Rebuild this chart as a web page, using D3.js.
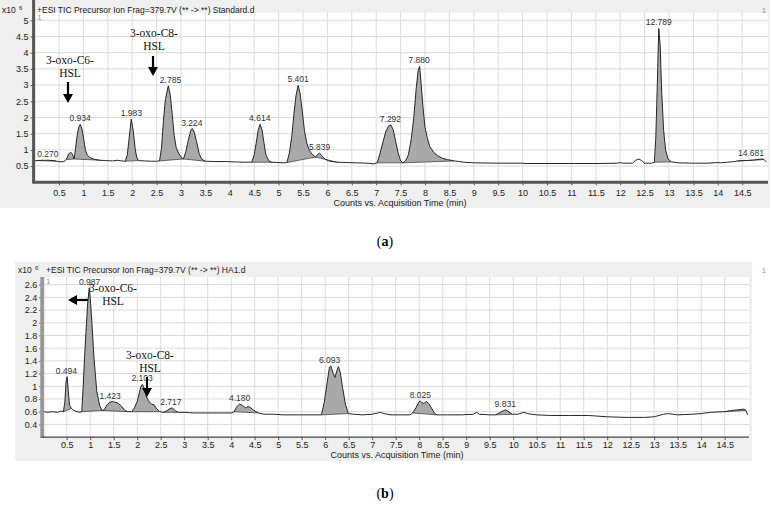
<!DOCTYPE html>
<html>
<head>
<meta charset="utf-8">
<script src="https://cdn.jsdelivr.net/npm/d3@7"></script>
<style>
  body { margin: 0; background: #fff; }
  svg text { font-family: "Liberation Sans", Arial, sans-serif; }
  .serif { font-family: "Liberation Serif", "Times New Roman", serif !important; }
</style>
</head>
<body>
<svg id="chart" width="770" height="507"></svg>
<script>
// ---- panel (a): Standard.d ----
var timeA = [0.00,0.05,0.15,0.27,0.40,0.45,0.52,0.60,0.65,0.70,0.74,0.78,0.81,0.84,0.87,0.90,0.935,0.97,1.00,1.04,1.08,1.14,1.22,1.34,1.45,1.60,1.70,1.78,1.86,1.90,1.94,1.98,2.02,2.06,2.09,2.13,2.25,2.40,2.50,2.56,2.60,2.64,2.68,2.74,2.78,2.82,2.86,2.90,2.95,3.00,3.05,3.10,3.15,3.20,3.23,3.27,3.32,3.37,3.42,3.50,3.70,3.90,4.10,4.30,4.45,4.50,4.54,4.58,4.62,4.66,4.70,4.74,4.80,4.86,5.00,5.10,5.17,5.22,5.27,5.32,5.36,5.40,5.44,5.48,5.53,5.58,5.63,5.69,5.76,5.80,5.84,5.88,5.94,6.05,6.20,6.40,6.60,6.80,6.95,7.02,7.08,7.14,7.20,7.26,7.30,7.35,7.40,7.45,7.50,7.55,7.60,7.66,7.72,7.77,7.82,7.86,7.89,7.92,7.96,8.00,8.05,8.10,8.18,8.26,8.36,8.46,8.60,8.80,9.00,9.50,10.00,10.05,10.50,11.00,11.50,11.95,12.00,12.05,12.25,12.32,12.38,12.44,12.50,12.65,12.70,12.73,12.76,12.79,12.82,12.85,12.89,12.93,12.98,13.05,13.20,13.50,13.80,14.00,14.05,14.20,14.35,14.40,14.60,14.75,14.90,14.95,15.00];
var signalA = [0.66,0.67,0.68,0.68,0.67,0.65,0.63,0.64,0.70,0.88,0.93,0.85,0.72,1.05,1.42,1.68,1.79,1.65,1.40,1.00,0.84,0.76,0.71,0.68,0.67,0.66,0.68,0.66,0.65,0.85,1.40,1.95,1.60,1.05,0.78,0.67,0.66,0.65,0.65,0.66,1.05,1.90,2.55,2.98,2.70,2.10,1.45,1.08,0.90,0.78,0.72,0.95,1.30,1.60,1.66,1.55,1.25,0.90,0.72,0.65,0.64,0.64,0.63,0.62,0.62,0.85,1.20,1.60,1.79,1.62,1.22,0.85,0.66,0.62,0.61,0.60,0.61,0.90,1.40,2.20,2.70,2.99,2.75,2.25,1.60,1.20,0.98,0.86,0.78,0.86,0.90,0.83,0.72,0.65,0.62,0.61,0.60,0.59,0.57,0.60,0.90,1.25,1.58,1.75,1.77,1.62,1.25,0.90,0.66,0.60,0.66,0.85,1.35,2.00,2.90,3.45,3.58,3.05,2.30,1.70,1.35,1.10,0.92,0.82,0.74,0.70,0.66,0.62,0.60,0.59,0.59,0.58,0.58,0.58,0.58,0.59,0.61,0.59,0.59,0.68,0.72,0.67,0.59,0.59,0.62,1.40,3.00,4.75,4.20,2.80,1.60,1.00,0.72,0.63,0.60,0.59,0.59,0.61,0.60,0.62,0.64,0.66,0.67,0.69,0.72,0.70,0.62];
var peakStartA = [0.05,0.65,0.81,1.86,2.56,3.05,4.45,5.17,5.76,7.02,7.55,12.70,14.40];
var peakEndA   = [0.45,0.81,1.34,2.13,3.05,3.50,4.86,5.76,6.20,7.55,8.60,13.05,14.95];
var peakLabelA = ["0.270","","0.934","1.983","2.785","3.224","4.614","5.401","5.839","7.292","7.880","12.789","14.681"];

// ---- panel (b): HA1.d ----
var timeB = [0.00,0.10,0.20,0.30,0.38,0.43,0.46,0.49,0.51,0.53,0.56,0.60,0.65,0.72,0.78,0.82,0.85,0.88,0.91,0.94,0.98,1.01,1.04,1.08,1.14,1.20,1.25,1.30,1.36,1.42,1.47,1.52,1.58,1.66,1.74,1.80,1.88,1.94,2.00,2.04,2.08,2.11,2.15,2.19,2.24,2.30,2.36,2.42,2.48,2.56,2.62,2.70,2.75,2.80,2.87,3.00,3.20,3.50,3.80,4.00,4.06,4.12,4.18,4.24,4.30,4.36,4.40,4.48,4.58,4.70,4.90,5.10,5.40,5.70,5.92,5.98,6.04,6.09,6.12,6.17,6.21,6.25,6.28,6.32,6.37,6.43,6.49,6.60,6.80,7.00,7.12,7.18,7.25,7.40,7.60,7.80,7.86,7.93,7.99,8.02,8.06,8.10,8.15,8.20,8.26,8.32,8.38,8.60,8.90,9.15,9.22,9.28,9.50,9.62,9.70,9.78,9.84,9.90,9.98,10.10,10.22,10.30,10.50,10.80,11.20,11.60,12.00,12.40,12.80,13.00,13.20,13.30,13.50,13.80,14.00,14.20,14.50,14.65,14.80,14.90,14.95,14.99];
var signalB = [0.60,0.59,0.60,0.59,0.61,0.60,0.75,1.10,1.15,0.95,0.70,0.65,0.62,0.60,0.59,0.60,0.99,1.45,1.85,2.25,2.55,2.30,1.95,1.45,0.92,0.70,0.62,0.63,0.71,0.75,0.76,0.75,0.74,0.69,0.62,0.60,0.60,0.66,0.76,0.88,1.00,1.03,0.97,0.85,0.77,0.72,0.71,0.64,0.60,0.59,0.61,0.65,0.66,0.62,0.59,0.59,0.58,0.58,0.58,0.58,0.60,0.68,0.72,0.70,0.66,0.68,0.67,0.62,0.58,0.56,0.56,0.55,0.55,0.55,0.55,0.75,1.05,1.30,1.32,1.20,1.14,1.25,1.31,1.22,0.98,0.72,0.57,0.56,0.55,0.56,0.58,0.59,0.57,0.55,0.55,0.55,0.58,0.66,0.75,0.77,0.74,0.73,0.76,0.73,0.66,0.58,0.55,0.55,0.55,0.56,0.59,0.56,0.55,0.55,0.58,0.61,0.63,0.60,0.56,0.56,0.59,0.57,0.55,0.54,0.54,0.54,0.52,0.51,0.51,0.52,0.56,0.57,0.55,0.56,0.57,0.59,0.60,0.62,0.63,0.64,0.62,0.55];
var peakStartB = [0.43,0.82,1.25,1.88,2.56,4.06,5.92,7.86,9.62,14.50];
var peakEndB   = [0.60,1.25,1.80,2.48,2.87,4.58,6.49,8.38,9.98,14.95];
var peakLabelB = ["0.494","0.987","1.423","2.103","2.717","4.180","6.093","8.025","9.831",""];

var ticksX = [0.5,1,1.5,2,2.5,3,3.5,4,4.5,5,5.5,6,6.5,7,7.5,8,8.5,9,9.5,10,10.5,11,11.5,12,12.5,13,13.5,14,14.5];
var ticksYA = [0.5,1,1.5,2,2.5,3,3.5,4,4.5,5];
var ticksYB = [0.4,0.6,0.8,1,1.2,1.4,1.6,1.8,2,2.2,2.4,2.6];

var svg = d3.select("#chart");

function draw_panel(p)
{
  var g = svg.append("g");

  // gray frame + white plot area
  g.append("rect").attr("x", p.bg[0]).attr("y", p.bg[1]).attr("width", p.bg[2]).attr("height", p.bg[3]).attr("fill", "#efefef");

  var xScale = d3.scaleLinear().domain([0, 15]).range([p.x0, p.x1]);
  var yScale = d3.scaleLinear().domain(p.ydom).range([p.y1, p.y0]);

  g.append("rect")
    .attr("x", p.x0 + 1).attr("y", p.y0)
    .attr("width", p.plotRight - p.x0 - 1).attr("height", p.y1 - p.y0)
    .attr("fill", "#fff");

  // grid
  g.selectAll(".vg").data(ticksX).enter().append("line")
    .attr("x1", function(d) { return xScale(d); }).attr("x2", function(d) { return xScale(d); })
    .attr("y1", p.y0).attr("y2", p.y1)
    .attr("stroke", "#dadada").attr("stroke-width", 1);
  g.selectAll(".hg").data(p.ticksY).enter().append("line")
    .attr("x1", p.x0).attr("x2", p.plotRight)
    .attr("y1", function(d) { return yScale(d); }).attr("y2", function(d) { return yScale(d); })
    .attr("stroke", "#dadada").attr("stroke-width", 1);

  var pts = p.time.map(function(t, i) { return [t, p.signal[i]]; });

  // shaded peaks: area between trace and straight baseline
  for (var k = 0; k < p.starts.length; k++) {
    var s = p.starts[k], e = p.ends[k];
    var seg = pts.filter(function(d) { return d[0] >= s - 1e-9 && d[0] <= e + 1e-9; });
    if (seg.length < 2) continue;
    var a = seg[0], b = seg[seg.length - 1];
    var poly = seg.map(function(d) { return [xScale(d[0]), yScale(d[1])]; });
    g.append("path")
      .attr("d", "M" + poly.join("L") + "L" + xScale(a[0]) + "," + yScale(a[1]) + "Z")
      .attr("fill", "#a9a9a9");
    g.append("line")
      .attr("x1", xScale(a[0])).attr("y1", yScale(a[1]))
      .attr("x2", xScale(b[0])).attr("y2", yScale(b[1]))
      .attr("stroke", "#444").attr("stroke-width", 0.8);
    g.append("line")
      .attr("x1", xScale(b[0])).attr("y1", yScale(b[1]))
      .attr("x2", xScale(b[0])).attr("y2", yScale(b[1]))
      .attr("stroke", "#444");

    if (p.labels[k] != "") {
      var top = d3.max(seg, function(d) { return d[1]; });
      g.append("text")
        .attr("x", xScale(+p.labels[k]))
        .attr("y", Math.max(yScale(top) - 3, p.y0 - 2))
        .attr("text-anchor", "middle")
        .attr("font-size", "8.5px")
        .attr("fill", "#333")
        .text(p.labels[k]);
    }
  }

  // trace
  var line = d3.line()
    .x(function(d) { return xScale(d[0]); })
    .y(function(d) { return yScale(d[1]); });
  g.append("path").datum(pts)
    .attr("d", line)
    .attr("fill", "none").attr("stroke", "#262626").attr("stroke-width", 1);

  // axes
  var yAxis = g.append("g")
    .attr("transform", "translate(" + p.x0 + ",0)")
    .call(d3.axisLeft(yScale).tickValues(p.ticksY).tickSize(4).tickPadding(2).tickFormat(d3.format("")));
  yAxis.select(".domain").remove();
  yAxis.selectAll("text").attr("font-size", "9px").attr("fill", "#222").attr("font-family", "Liberation Sans, Arial, sans-serif");
  yAxis.selectAll("line").attr("stroke", "#555");

  var xAxis = g.append("g")
    .attr("transform", "translate(0," + p.y1 + ")")
    .call(d3.axisBottom(xScale).tickValues(ticksX).tickSize(3).tickPadding(p.xPad).tickFormat(d3.format("")));
  xAxis.select(".domain").remove();
  xAxis.selectAll("text").attr("font-size", "9px").attr("fill", "#222").attr("font-family", "Liberation Sans, Arial, sans-serif");
  xAxis.selectAll("line").attr("stroke", "#555");

  g.append("line")
    .attr("x1", p.x0 - 1).attr("x2", p.x0 - 1)
    .attr("y1", p.axisTop).attr("y2", p.y1 + 1)
    .attr("stroke", p.yAxisColor).attr("stroke-width", p.yAxisWidth);
  g.append("line")
    .attr("x1", p.x0 - 2).attr("x2", p.plotRight)
    .attr("y1", p.y1).attr("y2", p.y1)
    .attr("stroke", p.xAxisColor).attr("stroke-width", p.xAxisWidth);

  // header and titles
  g.append("text").attr("x", p.expX).attr("y", p.headY).attr("font-size", "8.5px").attr("fill", "#222").text("x10");
  g.append("text").attr("x", p.expX + 17).attr("y", p.headY - 3).attr("font-size", "6px").attr("fill", "#222").text("6");
  g.append("text").attr("x", p.headX).attr("y", p.headY).attr("font-size", "8.5px").attr("fill", "#222").text(p.title);
  g.append("text").attr("x", p.x0 + 3).attr("y", p.y0 + 7).attr("font-size", "7px").attr("fill", "#888").text("1");
  g.append("text").attr("x", 762).attr("y", p.headY).attr("font-size", "7px").attr("fill", "#888").text("1");

  g.append("text")
    .attr("x", p.titleX).attr("y", p.titleY)
    .attr("text-anchor", "middle").attr("font-size", "9px").attr("fill", "#222")
    .text("Counts vs. Acquisition Time (min)");

  return { x: xScale, y: yScale, g: g };
}

function annotate(g, cx, cy, arrow)
{
  var t = g.append("text").attr("class", "serif")
    .attr("text-anchor", "middle").attr("font-size", "11.5px").attr("fill", "#111");
  t.append("tspan").attr("x", cx).attr("y", cy).text("3-oxo-C" + arrow.c + "-");
  t.append("tspan").attr("x", cx).attr("y", cy + 13).text("HSL");

  var ax = arrow.x, ay = arrow.y, L = arrow.len;
  if (arrow.dir == "down") {
    g.append("line").attr("x1", ax).attr("x2", ax).attr("y1", ay).attr("y2", ay + L - 7)
      .attr("stroke", "#000").attr("stroke-width", 2.2);
    g.append("path").attr("d", "M" + (ax - 5) + "," + (ay + L - 9) + "L" + (ax + 5) + "," + (ay + L - 9) + "L" + ax + "," + (ay + L) + "Z")
      .attr("fill", "#000");
  } else {
    g.append("line").attr("x1", ax).attr("x2", ax - L + 7).attr("y1", ay).attr("y2", ay)
      .attr("stroke", "#000").attr("stroke-width", 2.2);
    g.append("path").attr("d", "M" + (ax - L + 9) + "," + (ay - 5) + "L" + (ax - L + 9) + "," + (ay + 5) + "L" + (ax - L) + "," + ay + "Z")
      .attr("fill", "#000");
  }
}

var pa = draw_panel({
  bg: [0, 0, 770, 208],
  x0: 34.6, x1: 766.6, plotRight: 768, y0: 12.5, y1: 182.3, ydom: [0, 5.24],
  ticksY: ticksYA, time: timeA, signal: signalA,
  starts: peakStartA, ends: peakEndA, labels: peakLabelA,
  yAxisColor: "#555", yAxisWidth: 3, xAxisColor: "#555", xAxisWidth: 3, axisTop: 0, xPad: 4,
  expX: 2, headX: 37, headY: 13, title: "+ESI TIC Precursor Ion Frag=379.7V (** -> **) Standard.d",
  titleX: 400, titleY: 206
});

var pb = draw_panel({
  bg: [15, 262, 737, 199],
  x0: 43.2, x1: 748.2, plotRight: 749, y0: 277, y1: 437.1, ydom: [0.2, 2.72],
  ticksY: ticksYB, time: timeB, signal: signalB,
  starts: peakStartB, ends: peakEndB, labels: peakLabelB,
  yAxisColor: "#9a9a9a", yAxisWidth: 4, xAxisColor: "#444", xAxisWidth: 1.2, axisTop: 277, xPad: 2,
  expX: 18, headX: 46, headY: 273, title: "+ESI TIC Precursor Ion Frag=379.7V (** -> **) HA1.d",
  titleX: 397, titleY: 457.5
});

annotate(pa.g, 70, 64, { c: 6, dir: "down", x: 68, y: 82, len: 21 });
annotate(pa.g, 154, 37, { c: 8, dir: "down", x: 153, y: 56, len: 20 });
annotate(pb.g, 113, 292, { c: 6, dir: "left", x: 88, y: 300, len: 20 });
annotate(pb.g, 150, 359, { c: 8, dir: "down", x: 147, y: 377, len: 20 });

// captions
var cap = svg.append("g").attr("class", "serif").attr("font-size", "14px").attr("fill", "#000");
[["a", 246], ["b", 498]].forEach(function(c) {
  var t = cap.append("text").attr("class", "serif").attr("x", 385).attr("y", c[1]).attr("text-anchor", "middle");
  t.append("tspan").text("(");
  t.append("tspan").attr("font-weight", "bold").text(c[0]);
  t.append("tspan").text(")");
});
</script>
</body>
</html>
